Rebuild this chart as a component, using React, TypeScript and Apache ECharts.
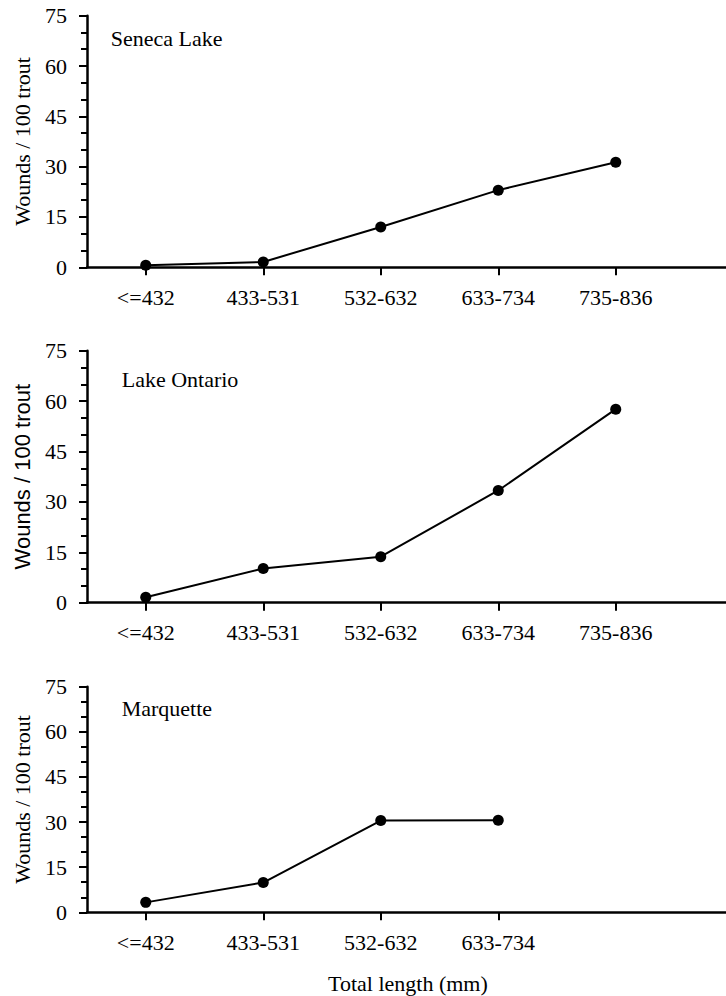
import React, { useEffect, useRef } from "react";
import * as echarts from "echarts";

const sizeClasses = ["<=432", "433-531", "532-632", "633-734", "735-836"];
const senecaValues = [0.6, 1.6, 12.0, 23.0, 31.3];
const ontarioValues = [1.6, 10.2, 13.7, 33.4, 57.6];
const marquetteValues = [3.3, 9.9, 30.5, 30.6];
const yTicks = { min: 0, max: 75, interval: 15 };
const panelNames = ["Seneca Lake", "Lake Ontario", "Marquette"];
const yAxisTitle = "Wounds / 100 trout";
const xAxisTitle = "Total length (mm)";

const SERIF = "'Liberation Serif', 'Times New Roman', serif";
const SANS = "'Liberation Sans', Arial, sans-serif";

export default function App() {
  const ref = useRef<HTMLDivElement>(null);
  useEffect(() => {
    if (!ref.current) return;
    const chart = echarts.init(ref.current, undefined, { renderer: "svg" });
    const panels = [
      { values: senecaValues, top: 15.7, height: 251.6, nameFont: SERIF, cats: [...sizeClasses, ""] },
      { values: ontarioValues, top: 350.7, height: 252, nameFont: SANS, cats: [...sizeClasses, ""] },
      { values: marquetteValues, top: 686.7, height: 225.6, nameFont: SERIF, cats: [...sizeClasses.slice(0, 4), "", ""] },
    ];
    const titlePos = [
      { left: 110.7, top: 27 },
      { left: 121.7, top: 368 },
      { left: 121.7, top: 697 },
    ];
    const option: any = {
      animation: false,
      backgroundColor: "#ffffff",
      title: panelNames.map((t, i) => ({
        text: t,
        left: titlePos[i].left,
        top: titlePos[i].top,
        padding: 0,
        textStyle: { fontFamily: SERIF, fontSize: 22, fontWeight: "normal", color: "#000" },
      })),
      grid: panels.map((p) => ({
        left: 87,
        top: p.top,
        width: 705,
        height: p.height,
        containLabel: false,
        outerBoundsMode: "none",
      })),
      xAxis: panels.map((p, i) => ({
        type: "category",
        gridIndex: i,
        data: p.cats,
        boundaryGap: true,
        axisLine: { show: true, onZero: false, lineStyle: { color: "#000", width: 2.5 } },
        axisTick: {
          show: true,
          alignWithLabel: true,
          length: 8,
          interval: (idx: number, val: string) => val !== "",
          lineStyle: { color: "#000", width: 2 },
        },
        axisLabel: {
          interval: 0,
          margin: 19,
          color: "#000",
          fontFamily: SERIF,
          fontSize: 22,
        },
        splitLine: { show: false },
      })),
      yAxis: panels.map((p, i) => ({
        type: "value",
        gridIndex: i,
        min: yTicks.min,
        max: yTicks.max,
        interval: yTicks.interval,
        name: yAxisTitle,
        nameLocation: "middle",
        nameRotate: 90,
        nameGap: 54,
        nameTextStyle: { fontFamily: p.nameFont, fontSize: 22, color: "#000" },
        axisLine: { show: true, lineStyle: { color: "#000", width: 2.5 } },
        axisTick: { show: true, length: 8, lineStyle: { color: "#000", width: 2 } },
        minorTick: { show: true, splitNumber: 3, length: 6, lineStyle: { color: "#000", width: 2 } },
        axisLabel: { margin: 20, color: "#000", fontFamily: SERIF, fontSize: 22 },
        splitLine: { show: false },
        minorSplitLine: { show: false },
      })),
      graphic: [
        {
          type: "text",
          left: 410 - 82,
          top: 972,
          style: { text: xAxisTitle, fontFamily: SERIF, fontSize: 22, fill: "#000" },
        },
      ],
      series: panels.map((p, i) => ({
        type: "line",
        xAxisIndex: i,
        yAxisIndex: i,
        data: p.values,
        symbol: "circle",
        symbolSize: 11,
        itemStyle: { color: "#000" },
        lineStyle: { color: "#000", width: 2 },
        clip: false,
      })),
    };
    chart.setOption(option);
    return () => chart.dispose();
  }, []);
  return (
    <div
      ref={ref}
      style={{ position: "absolute", left: 0, top: 0, width: 726, height: 996, background: "#fff" }}
    />
  );
}
